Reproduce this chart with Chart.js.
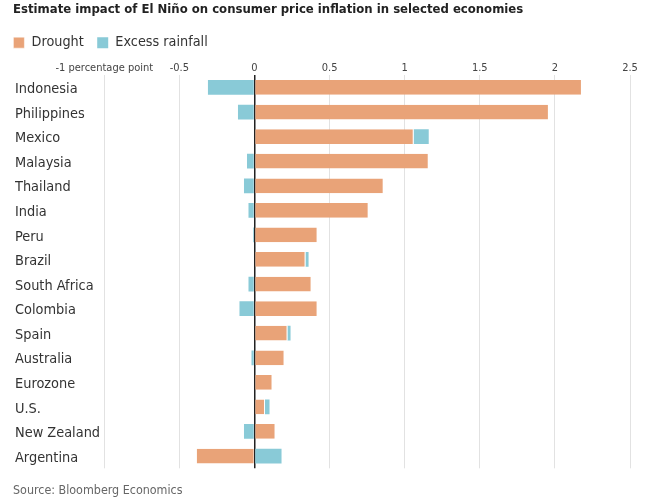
<!DOCTYPE html>
<html>
<head>
<meta charset="utf-8">
<script src="https://cdn.jsdelivr.net/npm/chart.js@4.4.1/dist/chart.umd.min.js"></script>
<style>
  html, body { margin: 0; padding: 0; background: #fff; }
  #wrap { width: 663px; height: 501px; position: relative; }
</style>
</head>
<body>
<div id="wrap"><canvas id="chart"></canvas></div>
<script>
const categories = ['Indonesia', 'Philippines', 'Mexico', 'Malaysia', 'Thailand', 'India', 'Peru', 'Brazil',
    'South Africa', 'Colombia', 'Spain', 'Australia', 'Eurozone', 'U.S.', 'New Zealand', 'Argentina'];
const drought = [2.18, 1.96, 1.06, 1.16, 0.86, 0.76, 0.42, 0.34, 0.38, 0.42, 0.22, 0.2, 0.12, 0.07, 0.14, -0.39];
const excessRainfall = [-0.31, -0.11, 0.1, -0.05, -0.07, -0.04, -0.01, 0.02, -0.04, -0.1, 0.02, -0.02, 0, 0.03, -0.07, 0.18];
const xTicks = [-1, -0.5, 0, 0.5, 1, 1.5, 2, 2.5];

const FONT = '"Liberation Sans Narrow", "DejaVu Sans Condensed", sans-serif';

// legend sits flush with the title, category names a little further in
const nudge = {
    id: 'nudge',
    afterLayout(chart) {
        chart.legend.left -= 13;
        chart.legend.right -= 13;
        chart.scales.y.left += 2;
    }
};

new Chart(document.getElementById('chart'), {
    type: 'bar',
    data: {
        labels: categories,
        datasets: [{
            label: 'Drought',
            data: drought,
            backgroundColor: '#e9a378',
            borderColor: '#ffffff',
            borderWidth: { left: 1, right: 1, top: 0, bottom: 0 },
            borderSkipped: 'start'
        }, {
            label: 'Excess rainfall',
            data: excessRainfall,
            backgroundColor: '#89cad7',
            borderWidth: 0
        }]
    },
    options: {
        indexAxis: 'y',
        responsive: true,
        maintainAspectRatio: false,
        animation: false,
        categoryPercentage: 1,
        barPercentage: 0.6,
        layout: { padding: { left: 13, right: 33, top: 0, bottom: 2.5 } },
        scales: {
            x: {
                position: 'top',
                stacked: true,
                min: -1,
                max: 2.5,
                afterBuildTicks(scale) { scale.ticks = xTicks.map(v => ({ value: v })); },
                afterFit(scale) { scale.height = 15.4; },
                ticks: {
                    padding: 0.5,
                    minRotation: 0,
                    maxRotation: 0,
                    autoSkip: false,
                    color: '#444',
                    font: { family: FONT, size: 11 },
                    callback: v => (v === -1 ? '-1 percentage point' : String(v))
                },
                grid: {
                    drawTicks: false,
                    color: ctx => (ctx.tick && ctx.tick.value === 0 ? '#222' : '#e2e2e2'),
                    lineWidth: ctx => (ctx.tick && ctx.tick.value === 0 ? 1.5 : 1)
                },
                border: { display: false }
            },
            y: {
                stacked: true,
                afterFit(scale) { scale.width = 91.3; },
                ticks: {
                    crossAlign: 'far',
                    labelOffset: 2,
                    color: '#333',
                    font: { family: FONT, size: 14.4 }
                },
                grid: { display: false },
                border: { display: false }
            }
        },
        plugins: {
            title: {
                display: true,
                text: 'Estimate impact of El Niño on consumer price inflation in selected economies',
                align: 'start',
                color: '#222',
                font: { family: FONT, size: 13, weight: 'bold' },
                padding: { top: 2, bottom: 4.5 }
            },
            legend: {
                align: 'start',
                labels: {
                    boxWidth: 11,
                    boxHeight: 11,
                    padding: 13.4,
                    color: '#333',
                    font: { family: FONT, size: 14.3 }
                }
            },
            subtitle: {
                display: true,
                position: 'bottom',
                align: 'start',
                text: 'Source: Bloomberg Economics',
                color: '#666',
                font: { family: FONT, size: 12.4 },
                padding: { top: 15.3, bottom: 0 }
            },
            tooltip: { enabled: false }
        }
    },
    plugins: [nudge]
});
</script>
</body>
</html>
